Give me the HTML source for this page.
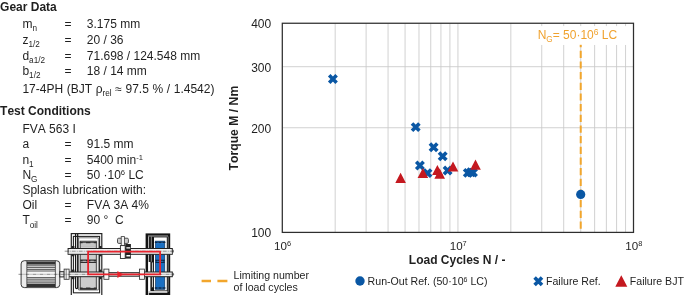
<!DOCTYPE html>
<html><head><meta charset="utf-8"><title>Gear Data</title>
<style>
html,body{margin:0;padding:0;background:#fff;}
body{width:685px;height:295px;overflow:hidden;position:relative;}
svg{position:absolute;left:0;top:0;display:block;}
text{font-family:"Liberation Sans",Arial,sans-serif;fill:#1f1f1f;font-kerning:none;}
.b{font-weight:bold;}
.t{font-size:12px;}
.l{font-size:10.6px;}
.o{fill:#f0a22e;}
</style></head><body>
<svg width="685" height="295" viewBox="0 0 685 295">

<text class="t b" x="0.1" y="10.7">Gear Data</text>
<text class="t" x="22.4" y="28.1">m<tspan font-size="8.2px" dy="3.3">n</tspan></text>
<text class="t" x="64.6" y="28.1">=</text>
<text class="t" x="86.8" y="28.1">3.175 mm</text>
<text class="t" x="22.4" y="43.7">z<tspan font-size="8.2px" dy="3.3">1/2</tspan></text>
<text class="t" x="64.6" y="43.7">=</text>
<text class="t" x="86.8" y="43.7">20 / 36</text>
<text class="t" x="22.4" y="59.5">d<tspan font-size="8.2px" dy="3.3">a1/2</tspan></text>
<text class="t" x="64.6" y="59.5">=</text>
<text class="t" x="86.8" y="59.5">71.698 / 124.548 mm</text>
<text class="t" x="22.4" y="75.0">b<tspan font-size="8.2px" dy="3.3">1/2</tspan></text>
<text class="t" x="64.6" y="75.0">=</text>
<text class="t" x="86.8" y="75.0">18 / 14 mm</text>
<text class="t" style="word-spacing:0.3px" x="22.4" y="93.1">17-4PH (BJT ρ<tspan font-size="8.2px" dy="3.3">rel</tspan><tspan dy="-3.3"> ≈ 97.5 % / 1.4542)</tspan></text>
<text class="t b" x="0.1" y="115">Test Conditions</text>
<text class="t" x="22.4" y="133.4">FVA 563 I</text>
<text class="t" x="22.4" y="148.2">a</text>
<text class="t" x="64.6" y="148.2">=</text>
<text class="t" x="86.8" y="148.2">91.5 mm</text>
<text class="t" x="22.4" y="163.9">n<tspan font-size="8.2px" dy="3.3">1</tspan></text>
<text class="t" x="64.6" y="163.9">=</text>
<text class="t" x="86.8" y="163.9">5400 min<tspan font-size="7.6px" dy="-3.7">-1</tspan></text>
<text class="t" x="22.4" y="178.6">N<tspan font-size="8.2px" dy="3.3">G</tspan></text>
<text class="t" x="64.6" y="178.6">=</text>
<text class="t" x="86.8" y="178.6">50 ·10<tspan font-size="7.6px" dy="-3.7">6</tspan><tspan dy="3.7"> LC</tspan></text>
<text class="t" style="word-spacing:0.45px" x="22.4" y="194.1">Splash lubrication with:</text>
<text class="t" x="22.4" y="208.8">Oil</text>
<text class="t" x="64.6" y="208.8">=</text>
<text class="t" x="86.8" y="208.8">FVA 3A 4%</text>
<text class="t" x="22.4" y="224.2">T<tspan font-size="8.2px" dy="3.3">oil</tspan></text>
<text class="t" x="64.6" y="224.2">=</text>
<text class="t" x="86.8" y="224.2">90 °&#160; C</text>
<g id="chart">
<line x1="335.18" y1="23.4" x2="335.18" y2="232.1" stroke="#c9c9c9" stroke-width="0.85"/>
<line x1="366.11" y1="23.4" x2="366.11" y2="232.1" stroke="#c9c9c9" stroke-width="0.85"/>
<line x1="388.05" y1="23.4" x2="388.05" y2="232.1" stroke="#c9c9c9" stroke-width="0.85"/>
<line x1="405.07" y1="23.4" x2="405.07" y2="232.1" stroke="#c9c9c9" stroke-width="0.85"/>
<line x1="418.98" y1="23.4" x2="418.98" y2="232.1" stroke="#c9c9c9" stroke-width="0.85"/>
<line x1="430.74" y1="23.4" x2="430.74" y2="232.1" stroke="#c9c9c9" stroke-width="0.85"/>
<line x1="440.93" y1="23.4" x2="440.93" y2="232.1" stroke="#c9c9c9" stroke-width="0.85"/>
<line x1="449.91" y1="23.4" x2="449.91" y2="232.1" stroke="#c9c9c9" stroke-width="0.85"/>
<line x1="510.83" y1="23.4" x2="510.83" y2="232.1" stroke="#c9c9c9" stroke-width="0.85"/>
<line x1="541.76" y1="23.4" x2="541.76" y2="232.1" stroke="#c9c9c9" stroke-width="0.85"/>
<line x1="563.70" y1="23.4" x2="563.70" y2="232.1" stroke="#c9c9c9" stroke-width="0.85"/>
<line x1="580.72" y1="23.4" x2="580.72" y2="232.1" stroke="#c9c9c9" stroke-width="0.85"/>
<line x1="594.63" y1="23.4" x2="594.63" y2="232.1" stroke="#c9c9c9" stroke-width="0.85"/>
<line x1="606.39" y1="23.4" x2="606.39" y2="232.1" stroke="#c9c9c9" stroke-width="0.85"/>
<line x1="616.58" y1="23.4" x2="616.58" y2="232.1" stroke="#c9c9c9" stroke-width="0.85"/>
<line x1="625.56" y1="23.4" x2="625.56" y2="232.1" stroke="#c9c9c9" stroke-width="0.85"/>
<line x1="457.95" y1="23.4" x2="457.95" y2="232.1" stroke="#c9c9c9" stroke-width="0.85"/>
<line x1="282.3" y1="127.75" x2="633.6" y2="127.75" stroke="#c9c9c9" stroke-width="0.85"/>
<line x1="282.3" y1="66.71" x2="633.6" y2="66.71" stroke="#c9c9c9" stroke-width="0.85"/>
<rect x="530" y="26.3" width="102.60000000000002" height="18.5" fill="#fff"/>
<line x1="580.72" y1="29.4" x2="580.72" y2="232.1" stroke="#f2a62c" stroke-width="2" stroke-dasharray="7.2 3.47"/>
<rect x="530" y="26.3" width="102.60000000000002" height="18.5" fill="#fff"/>
<rect x="282.3" y="23.25" width="351.2" height="209.15" fill="none" stroke="#2e2e2e" stroke-width="1.25"/>
<text class="t o" x="537.7" y="39">N<tspan font-size="8.2px" dy="3.3">G</tspan><tspan dy="-3.3">= 50·10</tspan><tspan font-size="8.5px" dy="-4">6</tspan><tspan dy="4"> LC</tspan></text>
<text class="t" x="271.2" y="237.0" text-anchor="end">100</text>
<text class="t" x="271.2" y="132.6" text-anchor="end">200</text>
<text class="t" x="271.2" y="71.6" text-anchor="end">300</text>
<text class="t" x="271.2" y="28.3" text-anchor="end">400</text>
<text x="274.0" y="250.4" font-size="11.6px">10<tspan font-size="7.4px" dy="-4.2">6</tspan></text>
<text x="449.7" y="250.4" font-size="11.6px">10<tspan font-size="7.4px" dy="-4.2">7</tspan></text>
<text x="625.3" y="250.4" font-size="11.6px">10<tspan font-size="7.4px" dy="-4.2">8</tspan></text>
<text class="t b" x="408.8" y="263.6">Load Cycles N / -</text>
<text class="b" font-size="12.2px" transform="translate(238.4,170.4) rotate(-90)">Torque M / Nm</text>
<path d="M329.20 75.30L336.60 82.70M329.20 82.70L336.60 75.30" stroke="#0a57a4" stroke-width="3.6" fill="none"/>
<path d="M412.00 123.40L419.40 130.80M412.00 130.80L419.40 123.40" stroke="#0a57a4" stroke-width="3.6" fill="none"/>
<path d="M429.90 143.50L437.30 150.90M429.90 150.90L437.30 143.50" stroke="#0a57a4" stroke-width="3.6" fill="none"/>
<path d="M439.00 152.60L446.40 160.00M439.00 160.00L446.40 152.60" stroke="#0a57a4" stroke-width="3.6" fill="none"/>
<path d="M416.20 161.80L423.60 169.20M416.20 169.20L423.60 161.80" stroke="#0a57a4" stroke-width="3.6" fill="none"/>
<path d="M423.80 169.40L431.20 176.80M423.80 176.80L431.20 169.40" stroke="#0a57a4" stroke-width="3.6" fill="none"/>
<path d="M443.90 166.80L451.30 174.20M443.90 174.20L451.30 166.80" stroke="#0a57a4" stroke-width="3.6" fill="none"/>
<path d="M464.10 169.20L471.50 176.60M464.10 176.60L471.50 169.20" stroke="#0a57a4" stroke-width="3.6" fill="none"/>
<path d="M467.30 168.60L474.70 176.00M467.30 176.00L474.70 168.60" stroke="#0a57a4" stroke-width="3.6" fill="none"/>
<path d="M469.30 168.90L476.70 176.30M469.30 176.30L476.70 168.90" stroke="#0a57a4" stroke-width="3.6" fill="none"/>
<path d="M400.60 172.70L405.90 182.90L395.30 182.90Z" fill="#c4181f"/>
<path d="M422.90 167.90L428.20 178.10L417.60 178.10Z" fill="#c4181f"/>
<path d="M437.40 164.90L442.70 175.10L432.10 175.10Z" fill="#c4181f"/>
<path d="M439.70 168.60L445.00 178.80L434.40 178.80Z" fill="#c4181f"/>
<path d="M453.00 161.40L458.30 171.60L447.70 171.60Z" fill="#c4181f"/>
<path d="M475.50 159.60L480.80 169.80L470.20 169.80Z" fill="#c4181f"/>
<circle cx="580.72" cy="194.4" r="4.6" fill="#0a57a4"/>
</g>
<path d="M201.6 281H211M217.4 281H227.4" stroke="#f2a62c" stroke-width="2.4"/>
<text class="l" x="233.6" y="279">Limiting number</text>
<text class="l" x="233.6" y="291">of load cycles</text>
<circle cx="360" cy="281" r="4.7" fill="#0a57a4"/>
<text class="l" x="367.6" y="284.9">Run-Out Ref. (50·10<tspan font-size="7px" dy="-3.3">6</tspan><tspan dy="3.3"> LC)</tspan></text>
<path d="M534.60 277.50L542.00 284.90M534.60 284.90L542.00 277.50" stroke="#0a57a4" stroke-width="3.6" fill="none"/>
<text class="l" x="546" y="284.9">Failure Ref.</text>
<path d="M621.30 275.30L627.30 286.70L615.30 286.70Z" fill="#c4181f"/>
<text class="l" x="629.8" y="284.9">Failure BJT</text>
<g id="rig">
<rect x="71.3" y="233.6" width="30.5" height="64" fill="#fff" stroke="#242424" stroke-width="1.2"/>
<rect x="73.4" y="236.4" width="26.2" height="56.4" fill="#fff" stroke="#242424" stroke-width="1.1"/>
<path d="M75.6 234V287.6A1.05 1.05 0 0 0 77.7 287.6V234" stroke="#161616" stroke-width="1.25" fill="none"/>
<path d="M78.6 290V237.8H98.3V290Z" stroke="#444" stroke-width="0.7" fill="none"/>
<rect x="80.2" y="241.2" width="16.1" height="48.2" fill="#cdcdcd" stroke="#333" stroke-width="0.9"/>
<path d="M79.8 242.4H96.7M80.2 260.2H96.3M80.2 262.2H96.3M79.8 288.2H96.7" stroke="#2e2e2e" stroke-width="1.5"/>
<path d="M82.6 243.2H86M90.4 243.2H93.8M82.6 261.2H86M90.4 261.2H93.8M82.6 287.6H86M90.4 287.6H93.8" stroke="#e6e6e6" stroke-width="0.7"/>
<path d="M81 245H95.5M81 246.5H95.5" stroke="#b4b4b4" stroke-width="0.6"/>
<rect x="145.6" y="233.4" width="24.6" height="64" fill="#141414"/>
<rect x="154" y="237.4" width="12.8" height="53" fill="#fff"/>
<rect x="148" y="291.2" width="19.4" height="1.5" fill="#fff"/>
<path d="M148.6 236.5V296" stroke="#d8d8d8" stroke-width="0.9"/>
<path d="M151.3 236.5V262" stroke="#c4c4c4" stroke-width="0.7"/>
<path d="M148 236H168" stroke="#d0d0d0" stroke-width="0.8"/>
<path d="M168.2 236.5V292" stroke="#b0b0b0" stroke-width="0.6"/>
<path d="M151.4 262V287A1 1 0 0 0 153.3 287V262Z" fill="#e8e8e8" stroke="#141414" stroke-width="0.9"/>
<rect x="148.2" y="262" width="2.2" height="29" fill="#fff"/>
<rect x="155.4" y="241.1" width="9.4" height="48.3" fill="#1a6fc2" stroke="#0e2e52" stroke-width="0.6"/>
<path d="M154.8 242.4H165.4M155.4 260.4H164.8M155.4 262.3H164.8M154.8 288H165.4" stroke="#0d2a4c" stroke-width="1.4"/>
<path d="M157 243H159M161 243H163M157 261.3H159M161 261.3H163M157 288H159M161 288H163" stroke="#3b8ad6" stroke-width="0.6"/>
<rect x="71.8" y="246.0" width="2.6" height="2.3" fill="#222"/>
<rect x="71.8" y="254.0" width="2.6" height="2.3" fill="#222"/>
<rect x="71.8" y="269.6" width="2.6" height="2.3" fill="#222"/>
<rect x="71.8" y="276.9" width="2.6" height="2.3" fill="#222"/>
<rect x="99.0" y="246.0" width="2.6" height="2.3" fill="#222"/>
<rect x="99.0" y="254.0" width="2.6" height="2.3" fill="#222"/>
<rect x="99.0" y="269.6" width="2.6" height="2.3" fill="#222"/>
<rect x="99.0" y="276.9" width="2.6" height="2.3" fill="#222"/>
<rect x="21.1" y="260.7" width="38.7" height="26.9" rx="3.2" fill="#ececec" stroke="#242424" stroke-width="0.9"/>
<rect x="27" y="261.2" width="28.2" height="25.9" fill="#f4f4f4"/>
<rect x="27" y="261.4" width="28.2" height="3.2" fill="#333"/>
<rect x="27" y="283.8" width="28.2" height="3.2" fill="#333"/>
<path d="M27 265.8H55.2M27 267.6H55.2M27 269.4H55.2M27 271.0H55.2M27 277.6H55.2M27 279.2H55.2M27 281.0H55.2M27 282.8H55.2" stroke="#2e2e2e" stroke-width="0.8"/>
<path d="M26.8 260.9V287.4M55.4 260.9V287.4" stroke="#242424" stroke-width="0.7"/>
<rect x="59.8" y="271.7" width="4.4" height="5.2" fill="#f2f2f2" stroke="#222" stroke-width="1"/>
<rect x="68.2" y="272" width="35.6" height="4.7" fill="#f2f2f2" stroke="#222" stroke-width="1"/>
<rect x="108.4" y="272.7" width="30.9" height="3.5" fill="#f2f2f2" stroke="#222" stroke-width="1"/>
<rect x="143.7" y="272" width="28.6" height="4.7" fill="#f2f2f2" stroke="#222" stroke-width="1"/>
<rect x="68.1" y="248.5" width="104.2" height="5.8" fill="#f2f2f2" stroke="#222" stroke-width="1"/>
<rect x="68.6" y="252.7" width="103.2" height="1.1" fill="#cdcdcd"/>
<rect x="64.1" y="269.1" width="5.0" height="10.2" fill="#f6f6f6" stroke="#2b2b2b" stroke-width="0.8"/>
<rect x="103.9" y="269.1" width="5.0" height="10.2" fill="#f6f6f6" stroke="#2b2b2b" stroke-width="0.8"/>
<rect x="139.39999999999998" y="269.1" width="5.0" height="10.2" fill="#f6f6f6" stroke="#2b2b2b" stroke-width="0.8"/>
<path d="M66.2 269.1V279.3" stroke="#2b2b2b" stroke-width="0.6"/>
<rect x="117.5" y="238.2" width="10.9" height="5.2" rx="1.2" fill="#cfcfcf" stroke="#3a3a3a" stroke-width="0.9"/>
<rect x="121.2" y="236.6" width="3.2" height="9.6" fill="#f4f4f4" stroke="#3a3a3a" stroke-width="0.8"/>
<rect x="120.4" y="245.6" width="4.8" height="12.9" fill="#fafafa" stroke="#2a2a2a" stroke-width="0.9"/>
<rect x="125.3" y="244" width="5.6" height="14.6" fill="#222"/>
<path d="M126.4 247.9H130.2M126.4 255.7H130.2" stroke="#fff" stroke-width="1.4"/>
<path d="M64.7 251.2H174.2M18.5 274.3H174.2" stroke="#222" stroke-width="0.5" stroke-dasharray="4 1 1 1"/>
<path d="M173.4 249.8V252.6M173.4 272.9V275.7" stroke="#222" stroke-width="0.5"/>
<path d="M88.1 251.6H160.1V274.4H88.1Z" fill="none" stroke="#e8232d" stroke-width="1.8"/>
<path d="M117.4 270.9L123.4 274.4L117.4 278Z" fill="#e8232d"/>
</g>
</svg></body></html>
